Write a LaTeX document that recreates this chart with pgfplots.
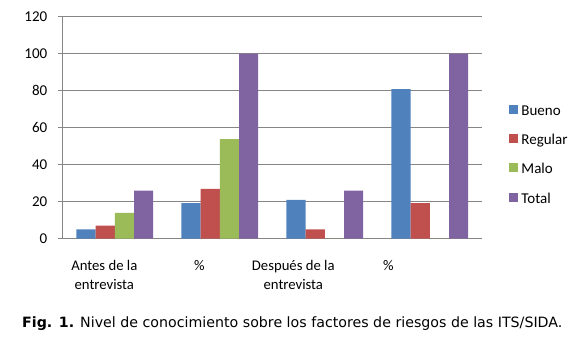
\documentclass[border=0pt]{standalone}
\usepackage{fontspec}
\setmainfont{Carlito}
\newfontfamily\capfont{DejaVu Sans}
\usepackage{pgfplots}
\pgfplotsset{compat=1.18}
\definecolor{cBueno}{HTML}{4F81BD}
\definecolor{cRegular}{HTML}{C0504D}
\definecolor{cMalo}{HTML}{9BBB59}
\definecolor{cTotal}{HTML}{8064A2}
\definecolor{gridc}{RGB}{134,134,134}
\begin{document}
\begin{tikzpicture}
\useasboundingbox (0,0) rectangle (578pt,340pt);
\begin{axis}[
  at={(62.3pt,101.3pt)}, anchor=south west,
  scale only axis, width=420pt, height=222pt,
  ybar=0pt, bar width=19.2pt,
  xmin=-0.5, xmax=3.5, ymin=0, ymax=120,
  ytick={0,20,...,120},
  xtick={-0.1,0.805,1.7,2.605},
  xticklabels={{Antes de la\\entrevista},{\%},{Después de la\\entrevista},{\%}},
  xticklabel style={align=center, font=\fontsize{14.7}{18.3}\selectfont, yshift=-14pt},
  yticklabel style={font=\fontsize{15}{17}\selectfont, xshift=-7pt},
  /pgf/number format/assume math mode=true,
  axis x line*=bottom, axis y line*=left,
  axis line style={gridc, line width=0.8pt},
  x axis line style={-}, y axis line style={-},
  ymajorgrids, grid style={gridc, line width=0.8pt},
  xtick style={draw=none},
  ytick style={gridc, line width=0.8pt},
  major tick length=4.5pt, tick align=outside,
  legend style={at={(axis description cs:1.057,0.375)}, anchor=west, draw=none, fill=none,
    font=\fontsize{15}{17}\selectfont, row sep=15.9pt,
    nodes={inner sep=0pt, text height=9pt, text depth=3pt},
    /tikz/every odd column/.append style={column sep=3pt}},
  legend cell align=left,
  legend image code/.code={\fill[#1] (0pt,-1.5pt) rectangle (9pt,7.5pt);},
]
\addplot[fill=cBueno, draw=none] coordinates {(0,5) (1,19.2) (2,21) (3,80.8)};
\addplot[fill=cRegular, draw=none] coordinates {(0,7) (1,26.9) (2,5) (3,19.2)};
\addplot[fill=cMalo, draw=none] coordinates {(0,14) (1,53.8) (2,0) (3,0)};
\addplot[fill=cTotal, draw=none] coordinates {(0,26) (1,100) (2,26) (3,100)};
\legend{Bueno,Regular,Malo,Total}
\end{axis}
\node[anchor=base west, inner sep=0pt, font=\capfont\fontsize{14.2}{16}\selectfont] at (22pt,12.5pt)
  {\textbf{Fig. 1.} Nivel de conocimiento sobre los factores de riesgos de las ITS/SIDA.};
\end{tikzpicture}
\end{document}
